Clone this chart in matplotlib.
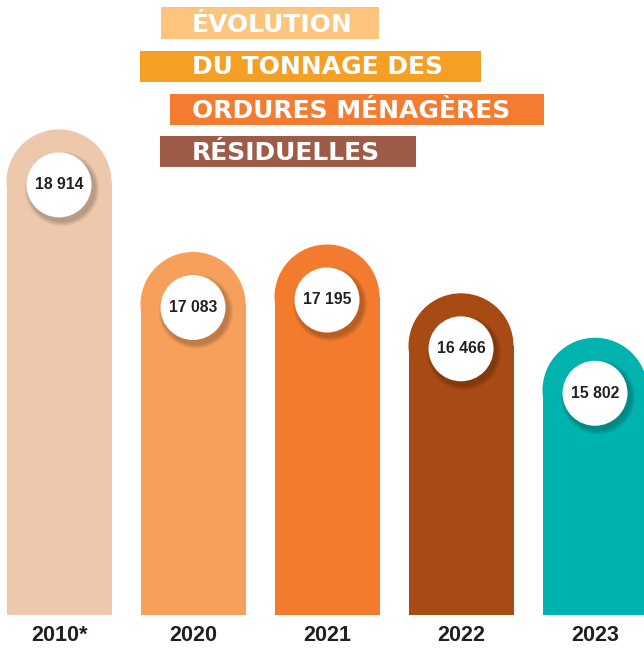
import matplotlib
matplotlib.use("Agg")
import matplotlib.pyplot as plt
from matplotlib.patches import Rectangle, Ellipse

# ---- data ----
years = ["2010*", "2020", "2021", "2022", "2023"]
values = [18914, 17083, 17195, 16466, 15802]
value_labels = ["18 914", "17 083", "17 195", "16 466", "15 802"]
bar_colors = ["#EDC8AC", "#F7A05C", "#F37B2E", "#A84A13", "#00B3AE"]

title_lines = ["ÉVOLUTION", "DU TONNAGE DES", "ORDURES MÉNAGÈRES", "RÉSIDUELLES"]
title_colors = ["#FDC47D", "#F5A024", "#F47C30", "#9D5B48"]

# ---- layout ----
W, H = 644, 648
fig = plt.figure(figsize=(W / 100, H / 100), dpi=100)
ax = fig.add_axes([0, 0, 1, 1])
ax.set_axis_off()

spacing_px = 134.0
x0_px = 59.0
ax.set_xlim(-x0_px / spacing_px, (W - x0_px) / spacing_px)
base = 11662
ymin, ymax = 11169, 20846
ax.set_ylim(ymin, ymax)

px_x = spacing_px                  # px per x unit
px_y = H / (ymax - ymin)           # px per y unit
bar_w = 105 / px_x
r_y = 52.5 / px_y                  # radius of rounded top in y units
circ_rx = 32.5 / px_x
circ_ry = 32.5 / px_y

for i, (v, c, lab) in enumerate(zip(values, bar_colors, value_labels)):
    top_c = v - r_y
    ax.bar(i, top_c - base, bottom=base, width=bar_w, color=c, linewidth=0, zorder=1)
    ax.add_patch(Ellipse((i, top_c), bar_w, 2 * r_y, color=c, linewidth=0, zorder=1))
    cy = top_c - 3 / px_y
    # soft shadow
    for k in range(6):
        grow = (6 - k) * 0.8
        ax.add_patch(Ellipse((i + 3 / px_x, cy - 4 / px_y),
                             2 * circ_rx + 2 * grow / px_x, 2 * circ_ry + 2 * grow / px_y,
                             color="black", alpha=0.04, linewidth=0, zorder=2))
    ax.add_patch(Ellipse((i, cy), 2 * circ_rx, 2 * circ_ry, color="white",
                         linewidth=0, zorder=3))
    ax.text(i, cy, lab, ha="center", va="center", fontsize=11.3,
            fontweight="bold", family="Liberation Sans", color="#231F20", zorder=4)
    ax.text(i, 1 - 635.5 / H, years[i], transform=ax.get_xaxis_transform(),
            ha="center", va="center", fontsize=15.5, fontweight="bold",
            family="Liberation Sans", color="#231F20")

# ---- title boxes ----
boxes = [(161, 379, 7, 39), (140, 481, 51, 82), (170, 544, 94, 125), (160, 416, 136, 167)]
for (x1, x2, y1, y2), txt, col in zip(boxes, title_lines, title_colors):
    fig.patches.append(Rectangle((x1 / W, 1 - y2 / H), (x2 - x1) / W, (y2 - y1) / H,
                                 transform=fig.transFigure, color=col, linewidth=0))
    fig.text(192 / W, 1 - (y2 - 7.5) / H, txt, ha="left", va="baseline",
             fontsize=18, fontweight="bold", family="DejaVu Sans", color="white")

fig.savefig("out.png", dpi=100)
